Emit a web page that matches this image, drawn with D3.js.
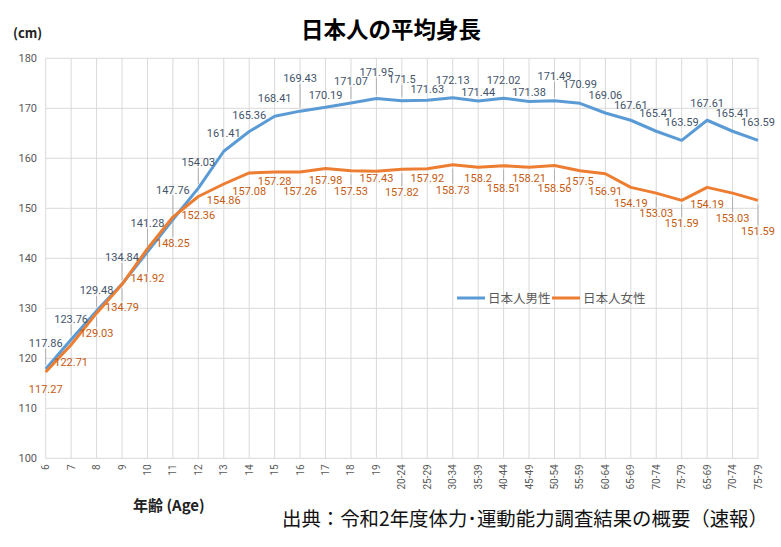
<!DOCTYPE html>
<html>
<head>
<meta charset="utf-8">
<script src="https://cdn.jsdelivr.net/npm/d3@7/dist/d3.min.js"></script>
<style>
  html, body { margin: 0; padding: 0; background: #fff; }
  svg { display: block; }
  .tick-label { fill: #595959; font-family: Roboto, "Noto Sans", sans-serif; }
  .jp { font-family: "Noto Sans CJK JP", "Noto Sans", sans-serif; }
</style>
</head>
<body>
<div id="chart"></div>
<script>
// categories on the x axis (age groups, last three repeated as in the source sheet)
const categories = ["6", "7", "8", "9", "10", "11", "12", "13", "14", "15", "16", "17", "18", "19",
    "20-24", "25-29", "30-34", "35-39", "40-44", "45-49", "50-54", "55-59", "60-64",
    "65-69", "70-74", "75-79", "65-69", "70-74", "75-79"];

const maleHeights = [117.86, 123.76, 129.48, 134.84, 141.28, 147.76, 154.03, 161.41, 165.36, 168.41,
    169.43, 170.19, 171.07, 171.95, 171.5, 171.63, 172.13, 171.44, 172.02, 171.38,
    171.49, 170.99, 169.06, 167.61, 165.41, 163.59, 167.61, 165.41, 163.59];

const femaleHeights = [117.27, 122.71, 129.03, 134.79, 141.92, 148.25, 152.36, 154.86, 157.08, 157.28,
    157.26, 157.98, 157.53, 157.43, 157.82, 157.92, 158.73, 158.2, 158.51, 158.21,
    158.56, 157.5, 156.91, 154.19, 153.03, 151.59, 154.19, 153.03, 151.59];

const yTicks = [100, 110, 120, 130, 140, 150, 160, 170, 180];

const seriesNames = ["日本人男性", "日本人女性"];

// vertical offsets (px) of the data labels from their points, as dragged in the original
const maleLabelDy = [-26, -21, -21, -27, -29, -30, -26, -18, -17, -18, -33, -12, -22, -27,
    -22, -11, -18, -9, -18, -9, -25, -19, -18, -15, -18, -18, -17, -18, -18];
const femaleLabelDy = [17, 17, 20, 23, 29, 26, 18, 16, 18, 9, 19, 12, 20, 7,
    23, 9, 25, 11, 22, 11, 22, 10, 17, 16, 20, 23, 17, 25, 31];

const width = 781, height = 547;
const margin = { left: 45.7, right: 23, top: 58.3, bottom: 88.7 };

const colors = { male: "#5b9bd5", female: "#ed7d31", maleText: "#44546a", femaleText: "#c55a11", grid: "#d9d9d9" };

const svg = d3.select("#chart").append("svg")
    .attr("width", width)
    .attr("height", height);

const x = d3.scalePoint()
    .domain(d3.range(categories.length))
    .range([margin.left, width - margin.right]);

const y = d3.scaleLinear()
    .domain([100, 180])
    .range([height - margin.bottom, margin.top]);

// grid
const grid = svg.append("g").attr("class", "grid");
grid.selectAll("line.h")
    .data(yTicks)
    .enter().append("line")
    .attr("class", "h")
    .attr("x1", margin.left).attr("x2", width - margin.right)
    .attr("y1", d => y(d)).attr("y2", d => y(d))
    .attr("stroke", colors.grid).attr("stroke-width", 1);
grid.selectAll("line.v")
    .data(d3.range(categories.length))
    .enter().append("line")
    .attr("class", "v")
    .attr("x1", d => x(d)).attr("x2", d => x(d))
    .attr("y1", y(180)).attr("y2", y(100))
    .attr("stroke", colors.grid).attr("stroke-width", 1);

// y tick labels
svg.append("g").selectAll("text")
    .data(yTicks)
    .enter().append("text")
    .attr("class", "tick-label")
    .attr("x", 37)
    .attr("y", d => y(d) + 4)
    .attr("text-anchor", "end")
    .attr("font-size", 11)
    .text(d => d);

// x tick labels, rotated
svg.append("g").selectAll("text")
    .data(categories)
    .enter().append("text")
    .attr("class", "tick-label")
    .attr("text-anchor", "end")
    .attr("font-size", 10)
    .attr("transform", (d, i) => "translate(" + (x(i) + 3.5) + "," + (y(100) + 6) + ") rotate(-90)")
    .text(d => d);

// lines
const line = d3.line()
    .x((d, i) => x(i))
    .y(d => y(d));

svg.append("path")
    .datum(maleHeights)
    .attr("d", line)
    .attr("fill", "none")
    .attr("stroke", colors.male)
    .attr("stroke-width", 3)
    .attr("stroke-linejoin", "round");

svg.append("path")
    .datum(femaleHeights)
    .attr("d", line)
    .attr("fill", "none")
    .attr("stroke", colors.female)
    .attr("stroke-width", 3)
    .attr("stroke-linejoin", "round");

// data labels with leader lines
function drawLabels(values, offsets, color) {
    const g = svg.append("g");
    values.forEach(function (v, i) {
        const px = x(i), py = y(v), dy = offsets[i];
        const cy = py + dy;
        if (Math.abs(dy) >= 20) {
            const dir = dy < 0 ? 1 : -1;
            g.append("line")
                .attr("x1", px).attr("x2", px)
                .attr("y1", cy + dir * 6).attr("y2", py - dir * 4)
                .attr("stroke", "#a6a6a6").attr("stroke-width", 0.8);
        }
        g.append("text")
            .attr("class", "tick-label")
            .attr("x", px)
            .attr("y", cy + 4)
            .attr("text-anchor", "middle")
            .attr("font-size", 11)
            .style("fill", color)
            .text(v);
    });
}
drawLabels(maleHeights, maleLabelDy, colors.maleText);
drawLabels(femaleHeights, femaleLabelDy, colors.femaleText);

// legend
const legend = svg.append("g").attr("transform", "translate(457,298)");
const legendItems = legend.selectAll("g")
    .data(seriesNames)
    .enter().append("g")
    .attr("transform", (d, i) => "translate(" + (i * 95) + ",0)");
legendItems.append("line")
    .attr("x1", 0).attr("x2", 28)
    .attr("stroke", (d, i) => i ? colors.female : colors.male)
    .attr("stroke-width", 3);
legendItems.append("text")
    .attr("class", "jp")
    .attr("x", 31)
    .attr("y", 4.5)
    .attr("font-size", 12.5)
    .attr("fill", "#595959")
    .text(d => d);

// titles
svg.append("text")
    .attr("class", "jp")
    .attr("x", 391)
    .attr("y", 38)
    .attr("text-anchor", "middle")
    .attr("font-size", 22.5)
    .attr("font-weight", "bold")
    .attr("fill", "#000")
    .text("日本人の平均身長");

svg.append("text")
    .attr("class", "jp")
    .attr("x", 13)
    .attr("y", 38)
    .attr("font-size", 13)
    .attr("font-weight", "bold")
    .attr("fill", "#222")
    .text("(cm)");

svg.append("text")
    .attr("class", "jp")
    .attr("x", 133)
    .attr("y", 511)
    .attr("font-size", 15)
    .attr("font-weight", "bold")
    .attr("fill", "#222")
    .text("年齢 (Age)");

svg.append("text")
    .attr("class", "jp")
    .attr("x", 282)
    .attr("y", 526)
    .attr("font-size", 19.4)
    .attr("fill", "#111")
    .text("出典：令和2年度体力･運動能力調査結果の概要（速報）");
</script>
</body>
</html>
